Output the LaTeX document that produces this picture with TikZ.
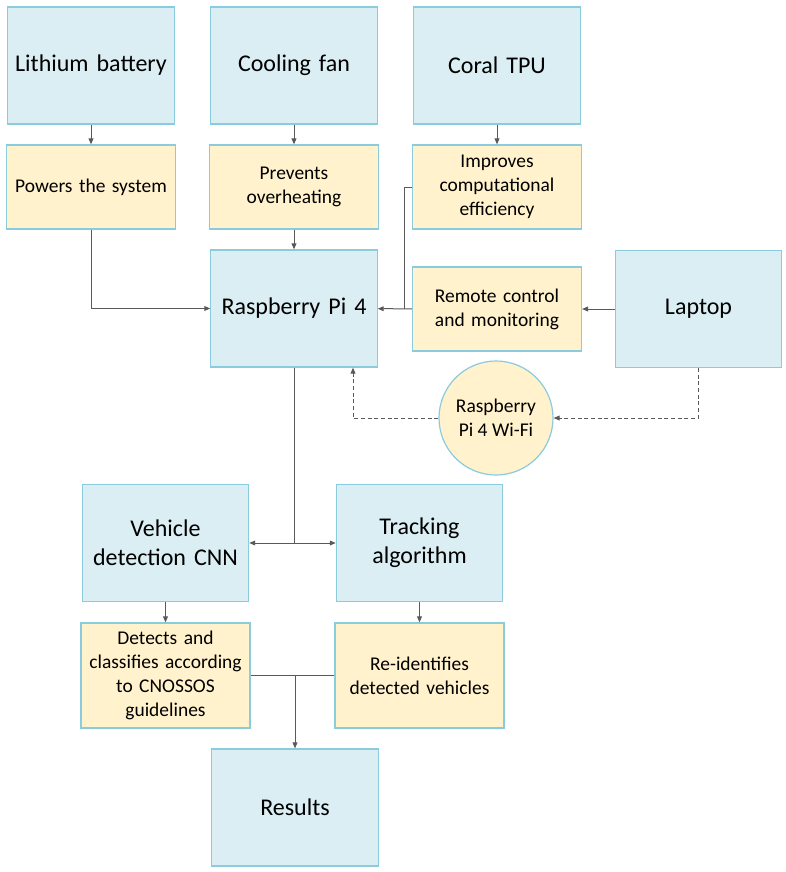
\documentclass[tikz,border=0pt]{standalone}
\usepackage{fontspec}
\setmainfont{Carlito}
\usetikzlibrary{arrows.meta}
\definecolor{boxblue}{HTML}{DAEEF3}
\definecolor{boxyellow}{HTML}{FFF2CC}
\definecolor{edgeblue}{HTML}{8ACBDD}
\definecolor{linegray}{HTML}{595959}
\begin{document}
\begin{tikzpicture}[x=0.75pt,y=-0.75pt,
  bluebox/.style={draw=edgeblue, fill=boxblue, line width=0.9pt, minimum width=124pt, minimum height=87.75pt, align=center, text width=118pt, font=\fontsize{18}{21.6}\selectfont},
  notebox/.style={draw=edgeblue, fill=boxyellow, line width=0.9pt, minimum width=124pt, minimum height=63pt, align=center, text width=120pt, font=\fontsize{14.6}{18}\selectfont},
  wifinode/.style={circle, draw=edgeblue, fill=boxyellow, line width=0.9pt, minimum size=85.5pt, inner sep=0pt, align=center, font=\fontsize{14.6}{18}\selectfont},
  line/.style={draw=linegray, line width=0.75pt},
  conn/.style={line, -{Triangle[length=4.5pt,width=3.6pt]}},
  dashconn/.style={conn, dash pattern=on 3pt off 2pt}]
\useasboundingbox (0,0) rectangle (786,872);
\node[bluebox] (lith) at (91,65.5) {Lithium battery};
\node[bluebox] (cool) at (294,65.5) {Cooling fan};
\node[bluebox] (coral) at (497,65.5) {Coral TPU};
\node[notebox] (powers) at (91,187) {Powers the system};
\node[notebox] (prevents) at (294,187) {Prevents\\overheating};
\node[notebox] (improves) at (497,187) {Improves\\computational\\efficiency};
\node[bluebox] (rpi) at (294,308.5) {Raspberry Pi 4};
\node[notebox] (remote) at (497,309) {Remote control\\and monitoring};
\node[bluebox] (laptop) at (698.5,309) {Laptop};
\node[wifinode] (wifi) at (496,418) {Raspberry\\Pi 4 Wi-Fi};
\node[bluebox] (vehicle) at (165.5,543) {Vehicle\\detection CNN};
\node[bluebox] (tracking) at (419.5,543) {Tracking\\algorithm};
\node[notebox, minimum height=78.75pt] (detects) at (165.5,675.5) {Detects and\\classifies according\\to CNOSSOS\\guidelines};
\node[notebox, minimum height=78.75pt] (reid) at (419.5,675.5) {Re-identifies\\detected vehicles};
\node[bluebox] (results) at (295,807.5) {Results};
\coordinate (join) at (404,309);
\coordinate (split) at (294,543);
\coordinate (merge) at (295,675.5);
\draw[conn] (lith) -- (powers);
\draw[conn] (cool) -- (prevents);
\draw[conn] (coral) -- (improves);
\draw[conn] (powers.south) |- (rpi.west);
\draw[conn] (prevents) -- (rpi);
\draw[line] (improves.west) -| (join);
\draw[conn] (laptop) -- (remote);
\draw[conn] (remote) -- (rpi);
\draw[dashconn] (laptop.south) |- (wifi.east);
\draw[dashconn] (wifi.west) -| ([xshift=44.25pt]rpi.south);
\draw[line] (rpi) -- (split);
\draw[conn] (split) -- (vehicle);
\draw[conn] (split) -- (tracking);
\draw[conn] (vehicle) -- (detects);
\draw[conn] (tracking) -- (reid);
\draw[line] (detects.east) -- (reid.west);
\draw[conn] (merge) -- (results);
\end{tikzpicture}
\end{document}
